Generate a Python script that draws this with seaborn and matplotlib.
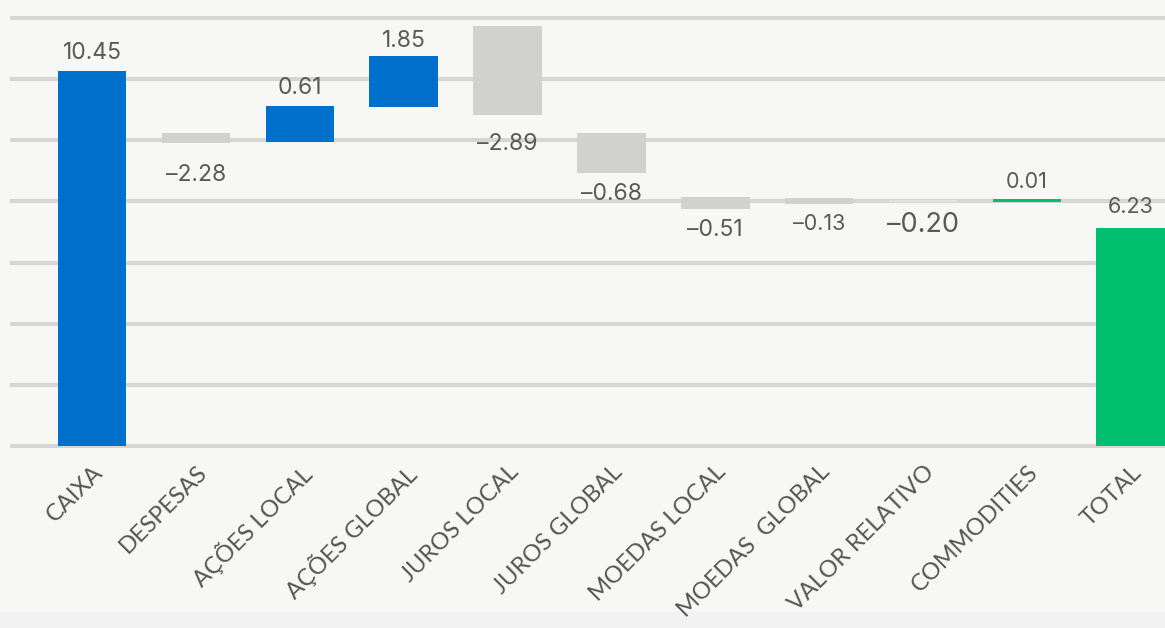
import pandas as pd
import matplotlib.pyplot as plt
import matplotlib.patches as mpatches
import seaborn as sns

# categorias e valores do waterfall
categorias = ["CAIXA", "DESPESAS", "AÇÕES LOCAL", "AÇÕES GLOBAL", "JUROS LOCAL",
              "JUROS GLOBAL", "MOEDAS LOCAL", "MOEDAS  GLOBAL", "VALOR RELATIVO",
              "COMMODITIES", "TOTAL"]
rotulos = [10.45, -2.28, 0.61, 1.85, -2.89, -0.68, -0.51, -0.13, -0.20, 0.01, 6.23]

# inicio e fim de cada barra (escala da grade: linhas a cada 2)
barra_base = [0.0, 9.91, 9.95, 11.10, 10.84, 8.94, 7.76, 7.92, 7.98, 7.99, 0.0]
barra_topo = [12.27, 10.24, 11.12, 12.76, 13.74, 10.24, 8.15, 8.11, 8.06, 8.07, 7.13]

tipo = ["pos", "neg", "pos", "pos", "neg", "neg", "neg", "neg", "neg_claro", "total", "total"]

cores = {"pos": "#0070cd", "neg": "#d1d1cf", "neg_claro": "#e2e2e0", "total": "#00bf6f"}
tamanho_rotulo = {"-0.20": 19.5, "-0.13": 15.5, "0.01": 15.5, "6.23": 15.5}
# ajustes finos de posicao vertical dos rotulos (pixels)
ajuste_rotulo = {"DESPESAS": -11, "JUROS LOCAL": -8, "TOTAL": 4, "AÇÕES GLOBAL": -3}

df = pd.DataFrame({"categoria": categorias, "base": barra_base, "topo": barra_topo,
                   "rotulo": rotulos, "tipo": tipo})
df["altura"] = df["topo"] - df["base"]

sns.set_style("white")
plt.rcParams["font.family"] = ["Lato", "DejaVu Sans"]

fig = plt.figure(figsize=(11.65, 6.28), dpi=100, facecolor="#f7f7f6")
fig.patches.append(mpatches.Rectangle((0, 0), 1, 16 / 628, transform=fig.transFigure,
                                      facecolor="#f2f2f2", edgecolor="none", zorder=-1))
ax = fig.add_axes([10 / 1165, 1 - 449 / 628, 1 - 10 / 1165, 449 / 628])
ax.set_facecolor("#f7f7f6")

sns.barplot(data=df, x="categoria", y="altura", order=categorias, width=0.66,
            color="#0070cd", errorbar=None, ax=ax, linewidth=0, zorder=3)

# move cada barra para a sua base e aplica a cor
for patch, base, t in zip(ax.patches, df["base"], df["tipo"]):
    patch.set_y(base)
    patch.set_facecolor(cores[t])

# rotulos de valor
for i, row in df.iterrows():
    txt = f"{row['rotulo']:.2f}"
    txt_show = txt.replace("-", "\u2013")
    fs = tamanho_rotulo.get(txt, 16.5)
    dy = ajuste_rotulo.get(row["categoria"], 0)
    if row["rotulo"] >= 0:
        ax.annotate(txt_show, (i, row["topo"]), xytext=(0, 7 + dy), textcoords="offset pixels",
                    ha="center", va="bottom", fontsize=fs, color="#595959",
                    family=["Inter", "DejaVu Sans"])
    else:
        ax.annotate(txt_show, (i, row["base"]), xytext=(0, -10 + dy), textcoords="offset pixels",
                    ha="center", va="top", fontsize=fs, color="#595959",
                    family=["Inter", "DejaVu Sans"])

ax.set_ylim(-0.098, 14.59)
ax.set_xlim(-0.79, 10.33)
ax.set_yticks(range(0, 16, 2))
ax.yaxis.grid(True, color="#d6d6d4", linewidth=2.9)
ax.set_axisbelow(True)
ax.tick_params(axis="y", length=0, labelleft=False)
ax.tick_params(axis="x", length=0, pad=9)
ax.set_xticks(range(len(categorias)))
ax.set_xticklabels(categorias, rotation=45, ha="right", rotation_mode="anchor",
                   fontsize=17, color="#555555")
ax.set_xlabel("")
ax.set_ylabel("")
for s in ax.spines.values():
    s.set_visible(False)

fig.savefig("out.png", dpi=100, facecolor=fig.get_facecolor())
